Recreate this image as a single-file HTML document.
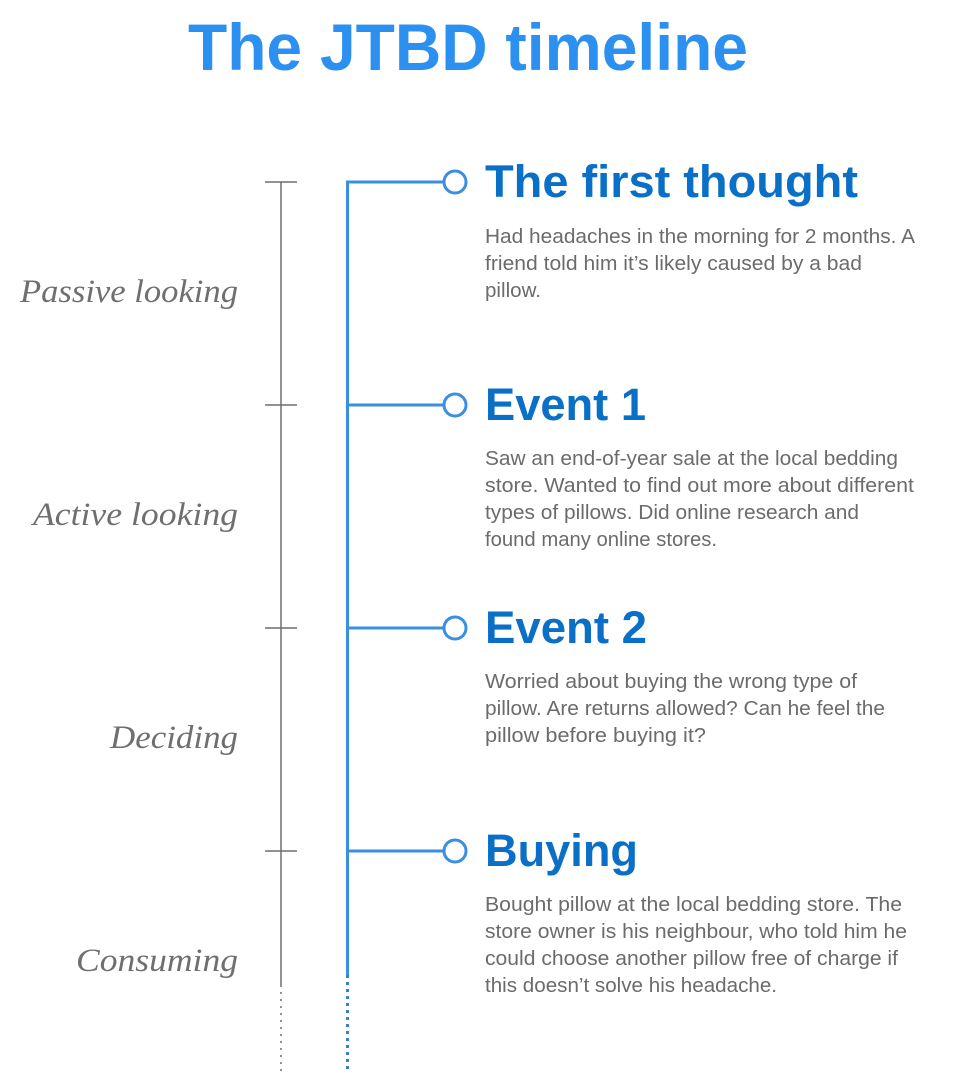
<!DOCTYPE html>
<html><head><meta charset="utf-8"><style>
html,body{margin:0;padding:0;background:#fff;}
svg{display:block;}
.t{font-family:"Liberation Sans",sans-serif;font-weight:bold;}
.b{font-family:"Liberation Sans",sans-serif;font-size:20px;fill:#6b6b6b;}
.l{font-family:"Liberation Serif",serif;font-style:italic;font-size:33px;fill:#6f6f6f;}
</style></head><body>
<svg width="979" height="1092" viewBox="0 0 979 1092" xmlns="http://www.w3.org/2000/svg">
<text x="188" y="70" class="t" font-size="66" fill="#2b90f0" textLength="560" lengthAdjust="spacingAndGlyphs">The JTBD timeline</text>
<!-- grey line -->
<line x1="281" y1="182" x2="281" y2="985" stroke="#6e6e6e" stroke-width="1.5"/>
<line x1="281" y1="985" x2="281" y2="1072" stroke="#6e6e6e" stroke-width="1.5" stroke-dasharray="2,5"/>
<g stroke="#6e6e6e" stroke-width="1.5">
<line x1="265" y1="182" x2="297" y2="182"/><line x1="265" y1="405" x2="297" y2="405"/>
<line x1="265" y1="628" x2="297" y2="628"/><line x1="265" y1="851" x2="297" y2="851"/>
</g>
<!-- blue line -->
<line x1="347.5" y1="181" x2="347.5" y2="975" stroke="#3a8fe0" stroke-width="3"/>
<line x1="347.5" y1="975" x2="347.5" y2="1072" stroke="#3a7fc8" stroke-width="3" stroke-dasharray="3,4"/>
<g stroke="#3a8fe0" stroke-width="3" fill="#fff">
<line x1="346" y1="182" x2="444" y2="182"/><circle cx="455" cy="182" r="11"/>
<line x1="346" y1="405" x2="444" y2="405"/><circle cx="455" cy="405" r="11"/>
<line x1="346" y1="628" x2="444" y2="628"/><circle cx="455" cy="628" r="11"/>
<line x1="346" y1="851" x2="444" y2="851"/><circle cx="455" cy="851" r="11"/>
</g>
<!-- labels -->
<text x="238" y="302" text-anchor="end" class="l" textLength="218" lengthAdjust="spacingAndGlyphs">Passive looking</text>
<text x="238" y="525" text-anchor="end" class="l" textLength="205" lengthAdjust="spacingAndGlyphs">Active looking</text>
<text x="238" y="748" text-anchor="end" class="l" textLength="128" lengthAdjust="spacingAndGlyphs">Deciding</text>
<text x="238" y="971" text-anchor="end" class="l" textLength="162" lengthAdjust="spacingAndGlyphs">Consuming</text>
<!-- headings -->
<g class="t" font-size="45" fill="#0a6fc6">
<text x="485" y="197" textLength="373" lengthAdjust="spacingAndGlyphs">The first thought</text>
<text x="485" y="420" textLength="161" lengthAdjust="spacingAndGlyphs">Event 1</text>
<text x="485" y="643" textLength="162" lengthAdjust="spacingAndGlyphs">Event 2</text>
<text x="485" y="866" textLength="153" lengthAdjust="spacingAndGlyphs">Buying</text>
</g>
<!-- body -->
<g class="b">
<text x="485" y="243" textLength="430" lengthAdjust="spacingAndGlyphs">Had headaches in the morning for 2 months. A</text>
<text x="485" y="270" textLength="377" lengthAdjust="spacingAndGlyphs">friend told him it’s likely caused by a bad</text>
<text x="485" y="297" textLength="56" lengthAdjust="spacingAndGlyphs">pillow.</text>
<text x="485" y="465" textLength="413" lengthAdjust="spacingAndGlyphs">Saw an end-of-year sale at the local bedding</text>
<text x="485" y="492" textLength="429" lengthAdjust="spacingAndGlyphs">store. Wanted to find out more about different</text>
<text x="485" y="519" textLength="374" lengthAdjust="spacingAndGlyphs">types of pillows. Did online research and</text>
<text x="485" y="546" textLength="232" lengthAdjust="spacingAndGlyphs">found many online stores.</text>
<text x="485" y="688" textLength="372" lengthAdjust="spacingAndGlyphs">Worried about buying the wrong type of</text>
<text x="485" y="715" textLength="400" lengthAdjust="spacingAndGlyphs">pillow. Are returns allowed? Can he feel the</text>
<text x="485" y="742" textLength="221" lengthAdjust="spacingAndGlyphs">pillow before buying it?</text>
<text x="485" y="911" textLength="417" lengthAdjust="spacingAndGlyphs">Bought pillow at the local bedding store. The</text>
<text x="485" y="938" textLength="422" lengthAdjust="spacingAndGlyphs">store owner is his neighbour, who told him he</text>
<text x="485" y="965" textLength="413" lengthAdjust="spacingAndGlyphs">could choose another pillow free of charge if</text>
<text x="485" y="992" textLength="292" lengthAdjust="spacingAndGlyphs">this doesn’t solve his headache.</text>
</g>
</svg>
</body></html>
